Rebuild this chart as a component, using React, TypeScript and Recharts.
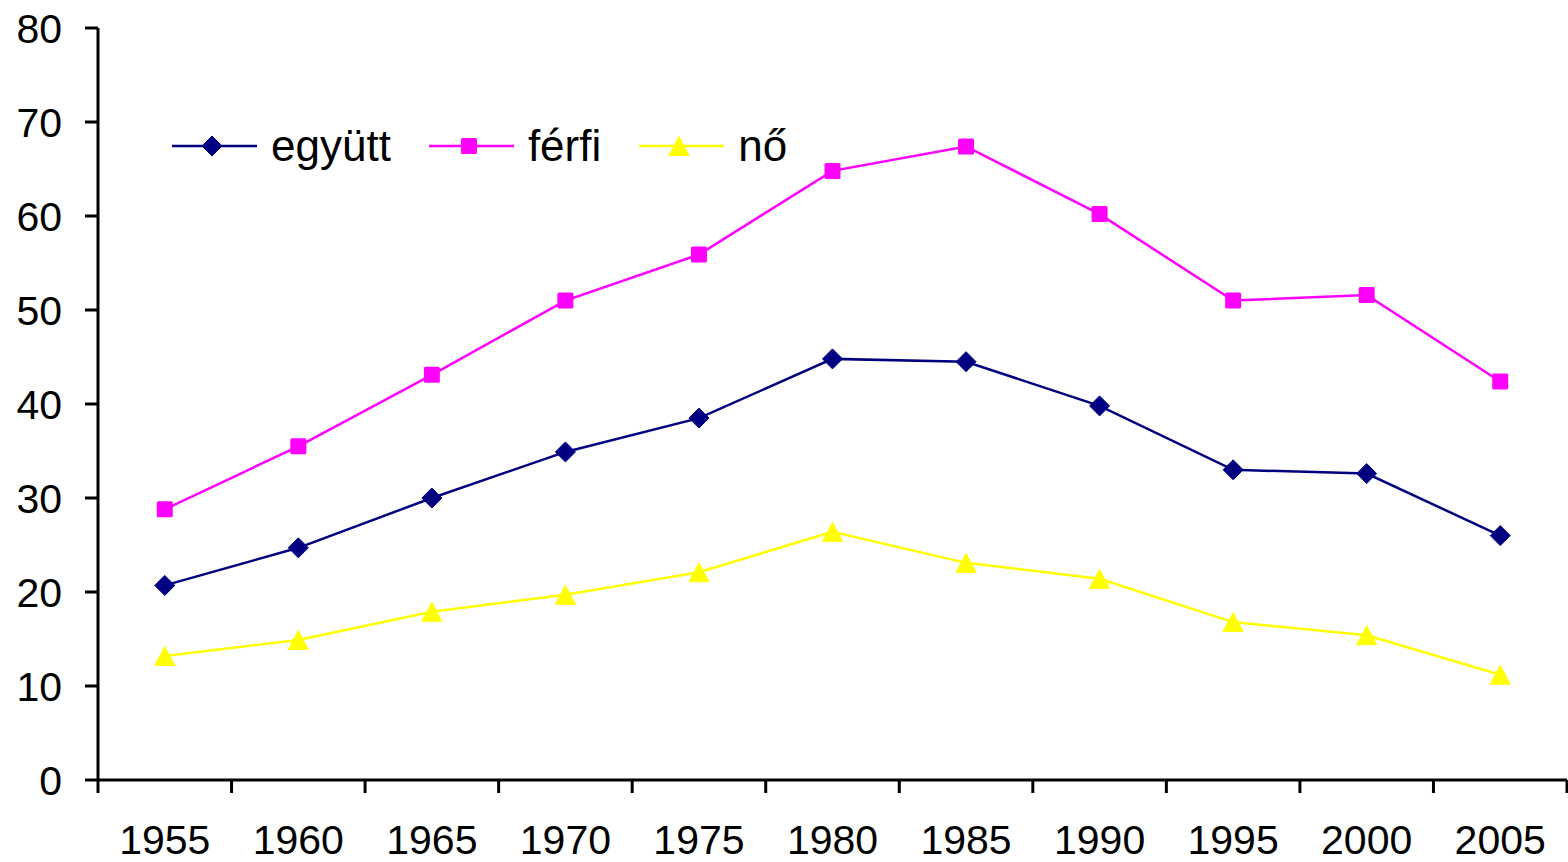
import React from 'react';
import { LineChart, Line, XAxis, YAxis, Legend } from 'recharts';

const years = ['1955', '1960', '1965', '1970', '1975', '1980', '1985', '1990', '1995', '2000', '2005'];
const egyutt = [20.7, 24.7, 30.0, 34.9, 38.5, 44.8, 44.5, 39.8, 33.0, 32.6, 26.0];
const ferfi = [28.8, 35.5, 43.1, 51.0, 55.9, 64.8, 67.4, 60.2, 51.0, 51.6, 42.4];
const no = [13.2, 14.9, 17.9, 19.7, 22.1, 26.4, 23.1, 21.4, 16.8, 15.4, 11.2];
const yTicks = [0, 10, 20, 30, 40, 50, 60, 70, 80];

// pos = centre of each year's slot, so the tick marks can sit on the slot boundaries
const data = years.map((year, i) => ({ year, pos: i + 0.5, egyutt: egyutt[i], ferfi: ferfi[i], no: no[i] }));
const boundaryTicks = [...years.map((_, i) => i), years.length];

const FONT = '"Liberation Sans", Arial, sans-serif';
const NAVY = '#000080';
const MAGENTA = '#FF00FF';
const YELLOW = '#FFFF00';

type Shape = 'diamond' | 'square' | 'triangle';

const marker = (shape: Shape, cx: number, cy: number, fill: string, key?: React.Key) => {
  if (shape === 'diamond') {
    const r = 10;
    return <polygon key={key} points={`${cx},${cy - r} ${cx + r},${cy} ${cx},${cy + r} ${cx - r},${cy}`} fill={fill} stroke={fill} strokeLinejoin="round" />;
  }
  if (shape === 'square') {
    const s = 8;
    return <rect key={key} x={cx - s} y={cy - s} width={s * 2} height={s * 2} rx={1.5} fill={fill} />;
  }
  const w = 10;
  const h = 9.5;
  return <polygon key={key} points={`${cx},${cy - h} ${cx + w},${cy + h} ${cx - w},${cy + h}`} fill={fill} stroke={fill} strokeLinejoin="round" />;
};

const dotFor = (shape: Shape, fill: string) => (props: any) => {
  const { cx, cy, index } = props;
  if (cx == null || cy == null) return <g key={index} />;
  return marker(shape, cx, cy, fill, `${shape}-${index}`);
};

const shapes: Record<string, Shape> = { egyutt: 'diamond', ferfi: 'square', no: 'triangle' };

const renderLegend = (props: any) => {
  const { payload = [] } = props;
  return (
    <div style={{ display: 'flex', alignItems: 'center', fontFamily: FONT, fontSize: 44, color: '#000' }}>
      {payload.map((entry: any) => (
        <div key={entry.value} style={{ display: 'flex', alignItems: 'center', marginRight: 38 }}>
          <svg width={85} height={30}>
            <line x1={0} y1={15} x2={85} y2={15} stroke={entry.color} strokeWidth={2.5} />
            {marker(shapes[entry.dataKey], 40, 15, entry.color)}
          </svg>
          <span style={{ marginLeft: 14, lineHeight: '40px' }}>{entry.value}</span>
        </div>
      ))}
    </div>
  );
};

export default function App() {
  return (
    <div style={{ position: 'absolute', left: 0, top: 0, background: '#fff' }}>
      <LineChart width={1568} height={862} data={data} margin={{ top: 28, right: 1, bottom: 0, left: 0 }}>
        <XAxis
          xAxisId="labels"
          dataKey="year"
          scale="band"
          interval={0}
          axisLine={false}
          tickLine={false}
          tickSize={0}
          tickMargin={32}
          height={69}
          tick={{ fill: '#000', fontSize: 41, fontFamily: FONT }}
        />
        <XAxis
          xAxisId="axis"
          dataKey="pos"
          type="number"
          domain={[0, years.length]}
          ticks={boundaryTicks}
          interval={0}
          allowDataOverflow
          tickFormatter={() => ''}
          tickSize={13}
          height={13}
          axisLine={{ stroke: '#000', strokeWidth: 3 }}
          tickLine={{ stroke: '#000', strokeWidth: 3 }}
        />
        <YAxis
          domain={[0, 80]}
          ticks={yTicks}
          interval={0}
          width={98}
          tickSize={13}
          tickMargin={23}
          axisLine={{ stroke: '#000', strokeWidth: 3 }}
          tickLine={{ stroke: '#000', strokeWidth: 3 }}
          tick={{ fill: '#000', fontSize: 41, fontFamily: FONT }}
        />
        <Legend
          layout="horizontal"
          align="center"
          verticalAlign="middle"
          content={renderLegend}
          wrapperStyle={{ left: 172, top: 126, width: 'auto' }}
        />
        <Line xAxisId="axis" type="linear" dataKey="egyutt" name="együtt" stroke={NAVY} strokeWidth={2.5} dot={dotFor('diamond', NAVY)} activeDot={false} isAnimationActive={false} />
        <Line xAxisId="axis" type="linear" dataKey="ferfi" name="férfi" stroke={MAGENTA} strokeWidth={2.5} dot={dotFor('square', MAGENTA)} activeDot={false} isAnimationActive={false} />
        <Line xAxisId="axis" type="linear" dataKey="no" name="nő" stroke={YELLOW} strokeWidth={2.5} dot={dotFor('triangle', YELLOW)} activeDot={false} isAnimationActive={false} />
      </LineChart>
    </div>
  );
}
